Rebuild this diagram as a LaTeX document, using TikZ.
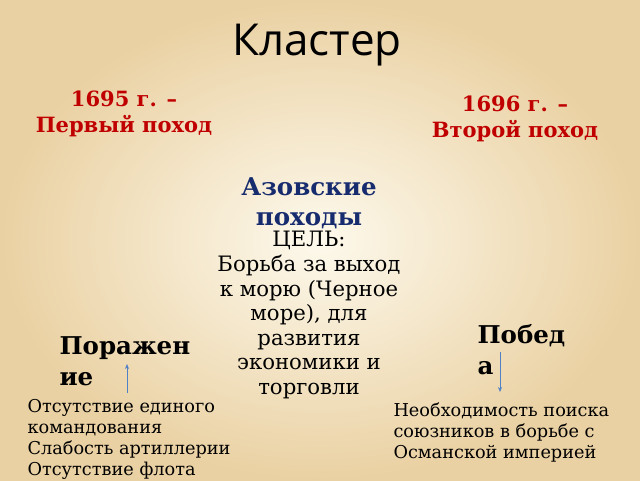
\documentclass[tikz,border=0pt]{standalone}
\usepackage{fontspec}
\setmainfont{DejaVu Serif}
\newfontfamily\titlefont{Open Sans}
\usetikzlibrary{arrows.meta}
\definecolor{campred}{RGB}{192,0,0}
\definecolor{azovblue}{RGB}{23,44,110}
\definecolor{arrowblue}{RGB}{79,129,199}
\definecolor{paperlight}{RGB}{253,249,236}
\definecolor{paperdark}{RGB}{234,209,163}
\tikzset{
  campaign/.style={anchor=center, align=center, text=campred, font=\rmfamily\bfseries\fontsize{21}{25.5}\selectfont},
  result/.style={anchor=west, align=left, font=\rmfamily\bfseries\fontsize{24.5}{31}\selectfont},
  reason/.style={anchor=north west, align=left, font=\rmfamily\fontsize{17.7}{21}\selectfont},
  linkarrow/.style={-{Stealth[length=5pt, width=4pt]}, arrowblue, line width=0.8pt}
}
\begin{document}
\begin{tikzpicture}[x=1pt, y=-1pt]
% Background
\useasboundingbox (0,0) rectangle (640,480);
\shade[inner color=paperlight, outer color=paperdark] (0,0) rectangle (640,480);

% Title
\node (title) at (317,45) {\titlefont\fontsize{44}{50}\selectfont Кластер};

% The two campaigns
\node[campaign] (first) at (124,114) {1695 г. –\\Первый поход};
\node[campaign] (second) at (515,119) {1696 г. –\\Второй поход};

% Centre of the cluster
\node[align=center, text=azovblue, font=\rmfamily\bfseries\fontsize{24.5}{30}\selectfont] (azov) at (309,203) {Азовские\\походы};
\node[anchor=north, align=center, font=\rmfamily\fontsize{21.2}{24.6}\selectfont] (goal) at (309,228) {ЦЕЛЬ:\\Борьба за выход\\к морю (Черное\\море), для\\развития\\экономики и\\торговли};

% Defeat
\node[result] (defeat) at (56,361) {Поражен\\ие};
\node[reason] (defeatwhy) at (24,396) {Отсутствие единого\\командования\\Слабость артиллерии\\Отсутствие флота};
\coordinate (defeatS) at (127,393);
\coordinate (defeatE) at (127,364);
\draw[linkarrow] (defeatS) -- (defeatE);

% Victory
\node[result] (victory) at (474,350) {Побед\\а};
\node[reason] (victorywhy) at (390,399) {Необходимость поиска\\союзников в борьбе с\\Османской империей};
\coordinate (victoryS) at (500,352);
\coordinate (victoryE) at (500,392);
\draw[linkarrow] (victoryS) -- (victoryE);
\end{tikzpicture}
\end{document}
